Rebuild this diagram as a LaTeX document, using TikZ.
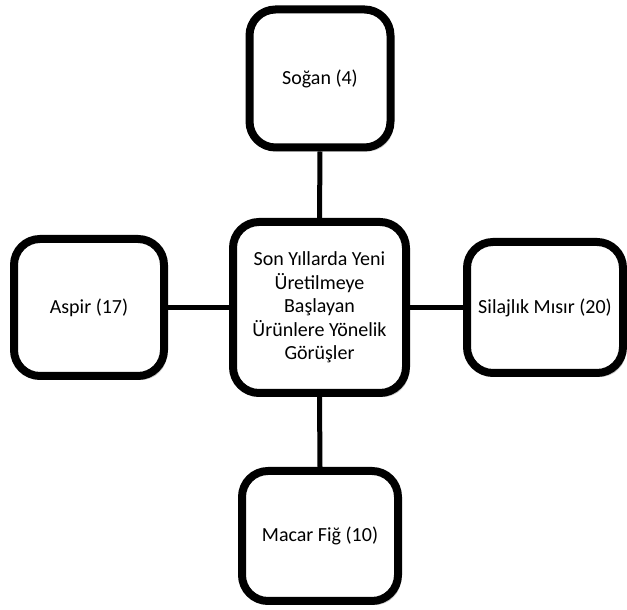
\documentclass[tikz,border=0pt]{standalone}
\usepackage{fontspec}
\setmainfont{Carlito}
\usetikzlibrary{shadows}
\begin{document}
\begin{tikzpicture}[x=1pt,y=1pt,
  boxnode/.style={draw=black, line width=8pt, fill=white, rounded corners=26pt,
    align=center, inner sep=2pt, font=\fontsize{20}{23.5}\selectfont,
    drop shadow={shadow xshift=3pt, shadow yshift=-4pt, opacity=0.35, fill=black!60}},
  link/.style={line width=5pt, draw=black}]
\useasboundingbox (0,0) rectangle (627,610);
\node[boxnode, minimum width=141pt, minimum height=138pt] (top) at (320,531.5) {Soğan (4)};
\node[boxnode, minimum width=150pt, minimum height=137pt] (left) at (89,302.5) {Aspir (17)};
\node[boxnode, minimum width=173pt, minimum height=171pt] (center) at (319.5,302.5) {Son Yıllarda Yeni\\Üretilmeye\\Başlayan\\Ürünlere Yönelik\\Görüşler};
\node[boxnode, minimum width=156pt, minimum height=131pt] (right) at (545,302.5) {Silajlık Mısır (20)};
\node[boxnode, minimum width=156pt, minimum height=130pt] (bottom) at (320,74) {Macar Fiğ (10)};
\draw[link] (top.south) -- (center.north);
\draw[link] (left.east) -- (center.west);
\draw[link] (center.east) -- (right.west);
\draw[link] (center.south) -- (bottom.north);
\end{tikzpicture}
\end{document}
